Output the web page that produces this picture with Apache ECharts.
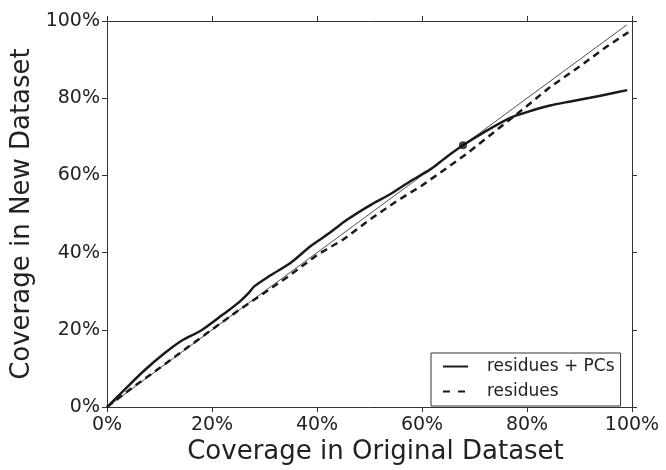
<!DOCTYPE html>
<html>
<head>
<meta charset="utf-8">
<script src="https://cdn.jsdelivr.net/npm/echarts@6/dist/echarts.min.js"></script>
<style>
html,body{margin:0;padding:0;background:#fff;}
#chart{width:666px;height:470px;}
</style>
</head>
<body>
<div id="chart"></div>
<script>
// Coverage values in percent
var diagX = [0, 99];
var diagY = [0, 99];

var solidName = 'residues + PCs';
var solidX = [0, 3.4, 7.2, 11, 14.2, 18, 22.2, 25, 27, 28, 31, 35, 38.7, 42.5, 45.7, 50, 54, 58, 61.5, 64.5, 67.8, 71.7, 76.8, 80, 84.4, 88, 92, 96, 99.1];
var solidY = [0, 4.6, 9.6, 14, 17.2, 19.9, 24.1, 27, 29.6, 31.2, 34.0, 37.4, 41.6, 45.2, 48.5, 52.2, 55.2, 58.7, 61.5, 64.6, 67.8, 71.1, 74.9, 76.4, 78.1, 79.1, 80.1, 81.2, 82.1];

var dashName = 'residues';
var dashX = [0, 5, 10, 15, 20, 25, 30, 35, 40, 45, 50, 55, 60, 65, 68.5, 75, 80, 84.4, 90, 95, 99.3];
var dashY = [0, 5.2, 10.1, 15.1, 20.1, 25, 29.6, 34.3, 39.4, 43.4, 48.5, 53.2, 57.4, 62.2, 65.6, 72.6, 78, 82.9, 88.2, 93.2, 97.1];

var markX = [67.8];
var markY = [67.8];

var tickValues = [0, 20, 40, 60, 80, 100];

function pairs(xs, ys) { return xs.map(function (x, i) { return [x, ys[i]]; }); }

var FONT = 'DejaVu Sans';
var INK = '#222';

var chart = echarts.init(document.getElementById('chart'), null, {renderer: 'canvas'});

function baseAxis(extra) {
  var a = {
    type: 'value', min: tickValues[0], max: tickValues[tickValues.length - 1], interval: 20,
    splitLine: {show: false},
    axisLine: {show: true, onZero: false, lineStyle: {color: '#333', width: 1}},
    axisTick: {show: true, inside: false, length: 5, lineStyle: {color: '#333', width: 1}},
    axisLabel: {show: false}
  };
  for (var k in extra) a[k] = extra[k];
  return a;
}

chart.setOption({
  animation: false,
  backgroundColor: '#fff',
  grid: {left: 107, top: 21, right: 34, bottom: 55, containLabel: false},
  xAxis: [
    baseAxis({
      position: 'bottom',
      name: 'Coverage in Original Dataset',
      nameLocation: 'middle',
      nameGap: 27,
      nameTextStyle: {fontFamily: FONT, fontSize: 26, color: INK, padding: [0, 0, 0, 12]},
      axisLabel: {show: true, formatter: '{value}%', fontFamily: FONT, fontSize: 19, color: INK, margin: 8}
    }),
    baseAxis({position: 'top'})
  ],
  yAxis: [
    baseAxis({
      position: 'left',
      name: 'Coverage in New Dataset',
      nameLocation: 'middle',
      nameGap: 68,
      nameTextStyle: {fontFamily: FONT, fontSize: 26, color: INK},
      axisLabel: {show: true, formatter: '{value}%', fontFamily: FONT, fontSize: 19, color: INK, margin: 7}
    }),
    baseAxis({position: 'right'})
  ],
  legend: {
    data: [solidName, {name: dashName, lineStyle: {type: [7, 8]}}],
    orient: 'vertical',
    left: 431, top: 353,
    padding: [5, 6, 6, 11],
    itemGap: 8,
    itemWidth: 25, itemHeight: 14,
    itemStyle: {color: 'transparent', borderWidth: 0, opacity: 0},
    borderColor: '#333', borderWidth: 1, borderRadius: 0,
    backgroundColor: '#fff',
    textStyle: {fontFamily: FONT, fontSize: 17, color: INK, padding: [0, 0, 0, 14]}
  },
  series: [
    {
      name: 'diagonal', type: 'line', data: pairs(diagX, diagY),
      showSymbol: false, symbol: 'none', silent: true,
      lineStyle: {color: '#222', width: 0.8}, z: 1
    },
    {
      name: dashName, type: 'line', data: pairs(dashX, dashY),
      showSymbol: false, symbol: 'none', smooth: false,
      itemStyle: {color: '#1a1a1a'},
      lineStyle: {color: '#1a1a1a', width: 2.5, type: [7, 5]}, z: 2
    },
    {
      name: solidName, type: 'line', data: pairs(solidX, solidY),
      showSymbol: false, symbol: 'none', smooth: 0.3,
      itemStyle: {color: '#1a1a1a'},
      lineStyle: {color: '#1a1a1a', width: 2.5}, z: 3
    },
    {
      name: 'point', type: 'scatter', data: pairs(markX, markY),
      symbolSize: 8, itemStyle: {color: '#111'}, z: 4
    }
  ]
});
</script>
</body>
</html>
